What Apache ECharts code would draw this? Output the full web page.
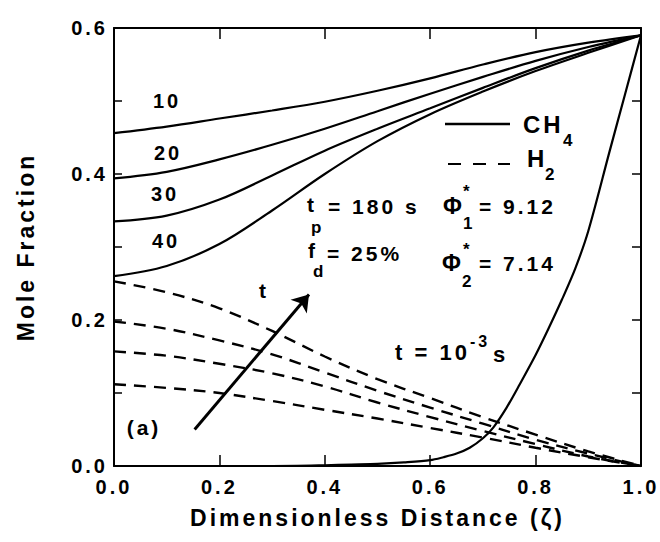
<!DOCTYPE html>
<html>
<head>
<meta charset="utf-8">
<script src="https://cdn.jsdelivr.net/npm/echarts@6/dist/echarts.min.js"></script>
<style>
html, body { margin: 0; padding: 0; background: #fff; }
#main { width: 660px; height: 542px; }
#main text { letter-spacing: 3px; }
</style>
</head>
<body>
<div id="main"></div>
<script>
// dimensionless distance (zeta) sample points
var zeta = [0, 0.1, 0.2, 0.3, 0.4, 0.5, 0.6, 0.7, 0.8, 0.9, 1.0];

// CH4 mole fraction, t = 10, 20, 30, 40 s
var ch4_10 = [0.456, 0.465, 0.476, 0.487, 0.499, 0.514, 0.531, 0.550, 0.567, 0.580, 0.590];
var ch4_20 = [0.394, 0.403, 0.420, 0.440, 0.462, 0.486, 0.510, 0.533, 0.555, 0.574, 0.590];
var ch4_30 = [0.335, 0.343, 0.365, 0.398, 0.432, 0.462, 0.490, 0.518, 0.545, 0.569, 0.590];
var ch4_40 = [0.260, 0.274, 0.304, 0.350, 0.400, 0.445, 0.482, 0.513, 0.541, 0.566, 0.590];

// CH4 at t = 1e-3 s
var early_x = [0, 0.3, 0.4, 0.45, 0.5, 0.55, 0.6, 0.625, 0.65, 0.675, 0.7, 0.72, 0.745, 0.77,
               0.8, 0.825, 0.85, 0.875, 0.9, 0.94, 0.97, 1.0];
var early_y = [0, 0, 0.001, 0.002, 0.003, 0.005, 0.008, 0.012, 0.017, 0.025, 0.038, 0.053, 0.08, 0.112,
               0.152, 0.189, 0.228, 0.27, 0.322, 0.43, 0.51, 0.59];

// H2 mole fraction (dashed), top to bottom
var h2_a = [0.253, 0.238, 0.216, 0.185, 0.150, 0.119, 0.093, 0.067, 0.043, 0.020, 0];
var h2_b = [0.198, 0.188, 0.172, 0.153, 0.128, 0.103, 0.080, 0.058, 0.036, 0.017, 0];
var h2_c = [0.157, 0.151, 0.140, 0.127, 0.109, 0.087, 0.067, 0.048, 0.030, 0.013, 0];
var h2_d = [0.112, 0.107, 0.100, 0.089, 0.077, 0.065, 0.052, 0.039, 0.025, 0.012, 0];

// arrow "t" (data coords: tail, head)
var arrowTail = [0.153, 0.05];
var arrowHead = [0.37, 0.235];

function pairs(xs, ys) {
    return xs.map(function (x, i) { return [x, ys[i]]; });
}

var myChart = echarts.init(document.getElementById('main'), null, { renderer: 'svg' });

var F = '"Liberation Sans", Arial, sans-serif';
function txt(s, x, y, size, align) {
    return {
        type: 'text', x: x, y: y, silent: true,
        style: {
            text: s, fill: '#000',
            font: 'bold ' + size + 'px ' + F,
            textAlign: align || 'left', textVerticalAlign: 'middle'
        }
    };
}

function solid(name, data) {
    return {
        name: name, type: 'line', data: data, smooth: 0.35, symbol: 'none',
        lineStyle: { color: '#000', width: 2.2 }, silent: true
    };
}
function dashed(name, data) {
    return {
        name: name, type: 'line', data: data, smooth: 0.35, symbol: 'none',
        lineStyle: { color: '#000', width: 2.4, type: [12, 8] }, silent: true
    };
}

var tickFont = { fontFamily: F, fontWeight: 'bold', fontSize: 20, color: '#000' };
var frameLine = { onZero: false, lineStyle: { color: '#000', width: 2 } };

var option = {
    animation: false,
    backgroundColor: '#fff',
    grid: { left: 114, right: 19, top: 28, bottom: 76 },
    xAxis: [{
        type: 'value', min: 0, max: 1, interval: 0.2, position: 'bottom',
        name: 'Dimensionless Distance (ζ)', nameLocation: 'middle', nameGap: 40,
        nameTextStyle: { fontFamily: F, fontWeight: 'bold', fontSize: 23, color: '#000' },
        axisLine: frameLine,
        axisTick: { inside: true, length: 11, lineStyle: { color: '#000', width: 1.5 } },
        axisLabel: Object.assign({ margin: 11, formatter: function (v) { return v.toFixed(1); } }, tickFont),
        splitLine: { show: false }
    }, {
        type: 'value', min: 0, max: 1, interval: 0.2, position: 'top',
        axisLine: frameLine,
        axisTick: { inside: true, length: 11, lineStyle: { color: '#000', width: 1.5 } },
        axisLabel: { show: false }, splitLine: { show: false }
    }],
    yAxis: [{
        type: 'value', min: 0, max: 0.6, interval: 0.1, position: 'left',
        name: 'Mole Fraction', nameLocation: 'middle', nameGap: 77, nameRotate: 90,
        nameTextStyle: { fontFamily: F, fontWeight: 'bold', fontSize: 23, color: '#000' },
        axisLine: frameLine,
        axisTick: { inside: true, length: 8, lineStyle: { color: '#000', width: 1.5 } },
        axisLabel: Object.assign({
            margin: 6,
            formatter: function (v) { return Math.round(v * 10) % 2 === 0 ? v.toFixed(1) : ''; }
        }, tickFont),
        splitLine: { show: false }
    }, {
        type: 'value', min: 0, max: 0.6, interval: 0.1, position: 'right',
        axisLine: frameLine,
        axisTick: { inside: true, length: 9, lineStyle: { color: '#000', width: 1.5 } },
        axisLabel: { show: false }, splitLine: { show: false }
    }],
    series: [
        solid('CH4 10', pairs(zeta, ch4_10)),
        solid('CH4 20', pairs(zeta, ch4_20)),
        solid('CH4 30', pairs(zeta, ch4_30)),
        solid('CH4 40', pairs(zeta, ch4_40)),
        dashed('H2 a', pairs(zeta, h2_a)),
        dashed('H2 b', pairs(zeta, h2_b)),
        dashed('H2 c', pairs(zeta, h2_c)),
        dashed('H2 d', pairs(zeta, h2_d)),
        Object.assign(solid('CH4 1e-3', pairs(early_x, early_y)), {
            smooth: 0.3,
            markLine: {
                silent: true, symbol: ['none', 'arrow'], symbolSize: 16,
                label: { show: false },
                lineStyle: { color: '#000', width: 3, type: 'solid' },
                data: [[{ coord: arrowTail }, { coord: arrowHead }]]
            }
        })
    ],
    graphic: [
        // curve labels (seconds)
        txt('10', 167, 101, 20, 'center'),
        txt('20', 168, 153, 20, 'center'),
        txt('30', 165, 194, 20, 'center'),
        txt('40', 166, 241, 20, 'center'),
        // legend
        { type: 'line', silent: true, shape: { x1: 445, y1: 124, x2: 510, y2: 124 },
          style: { stroke: '#000', lineWidth: 2.5 } },
        txt('CH', 523, 124, 24),
        txt('4', 563, 140, 17),
        { type: 'line', silent: true, shape: { x1: 448, y1: 164, x2: 510, y2: 164 },
          style: { stroke: '#000', lineWidth: 2.2, lineDash: [13, 12] } },
        txt('H', 527, 158, 24),
        txt('2', 545, 174, 17),
        // parameters
        txt('t', 307, 204, 21),
        txt('p', 311, 227, 17),
        txt('= 180 s', 328, 206, 21),
        txt('f', 308, 250, 21),
        txt('d', 313, 271, 17),
        txt('= 25%', 327, 253, 21),
        txt('Φ', 443, 206, 23),
        txt('*', 463, 191, 17),
        txt('1', 463, 223, 17),
        txt('= 9.12', 479, 206, 21),
        txt('Φ', 442, 263, 23),
        txt('*', 463, 249, 17),
        txt('2', 462, 281, 17),
        txt('= 7.14', 479, 263, 21),
        txt('t = 10', 395, 352, 22),
        txt('-3', 470, 341, 16),
        txt('s', 493, 354, 22),
        txt('t', 264, 290, 21, 'center'),
        txt('(a)', 144, 427, 21, 'center')
    ]
};

myChart.setOption(option);
</script>
</body>
</html>
